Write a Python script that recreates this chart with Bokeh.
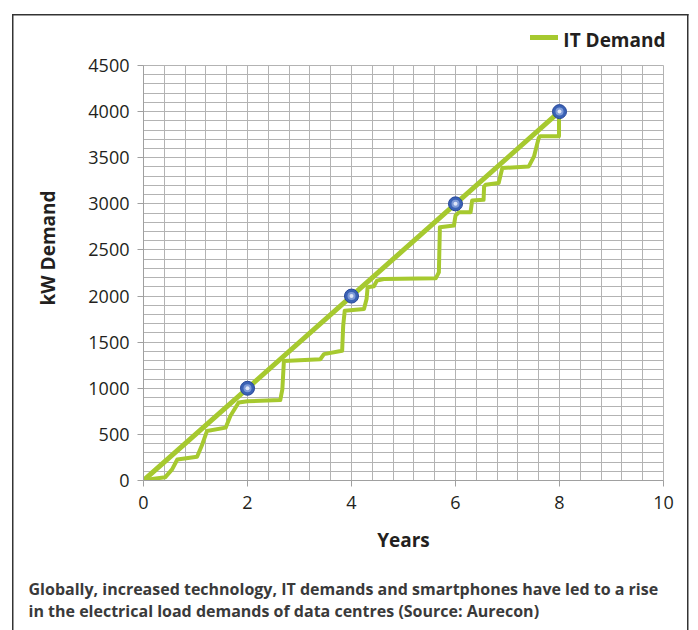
from bokeh.plotting import figure
from bokeh.models import (Range1d, FixedTicker, Title)
from bokeh.embed import file_html
from bokeh.resources import INLINE

# ---- data ----
target_years = [0, 2, 4, 6, 8]
target_demand = [0, 1000, 2000, 3000, 4000]
marker_years = [2, 4, 6, 8]
marker_demand = [1000, 2000, 3000, 4000]
step_years = [0, 0.2, 0.42, 0.55, 0.65, 1.03, 1.13, 1.22, 1.58, 1.67, 1.83, 2.0,
              2.63, 2.67, 2.70, 3.40, 3.47, 3.82, 3.84, 3.87, 4.24, 4.29, 4.31,
              4.43, 4.49, 4.62, 5.62, 5.68, 5.70, 5.97, 6.0, 6.07, 6.29, 6.32,
              6.54, 6.55, 6.58, 6.83, 6.90, 7.41, 7.51, 7.60, 7.63, 7.99, 7.99, 8.0]
step_demand = [0, 20, 36, 120, 228, 258, 391, 536, 573, 699, 845, 860,
               872, 989, 1297, 1315, 1370, 1406, 1677, 1840, 1859, 1967, 2095,
               2106, 2167, 2185, 2192, 2257, 2747, 2764, 2873, 2910, 2910, 3036,
               3043, 3188, 3207, 3225, 3388, 3406, 3514, 3714, 3732, 3732, 3967, 4000]
x_ticks = [0, 2, 4, 6, 8, 10]
y_ticks = [0, 500, 1000, 1500, 2000, 2500, 3000, 3500, 4000, 4500]
x_grid = [0, 0.4, 0.8, 1.2, 1.6, 2.0, 2.4, 2.8, 3.2, 3.6, 4.0, 4.4, 4.8, 5.2, 5.6,
          6.0, 6.4, 6.8, 7.2, 7.6, 8.0, 8.4, 8.8, 9.2, 9.6, 10.0]
y_grid = list(range(0, 4501, 100))
legend_label = "IT Demand"
x_title = "Years"
y_title = "kW Demand"
caption = ["Globally, increased technology, IT demands and smartphones have led to a rise",
           "in the electrical load demands of data centres (Source: Aurecon)"]

GREEN = "#a6c92f"
FONT = "Open Sans"
TXT = "#231f20"

p = figure(width=698, height=630, x_range=Range1d(0, 10), y_range=Range1d(0, 4500),
           output_backend="svg", toolbar_location=None,
           min_border_left=143, min_border_right=35, min_border_top=65,
           min_border_bottom=149)
p.background_fill_color = "white"
p.border_fill_color = None
p.outline_line_color = "#b3b3b3"
# outer frame of the figure panel and the legend key swatch (page decoration)
p.styles = {
    "background-color": "white",
    "background-image": ("linear-gradient(#333,#333), linear-gradient(#333,#333), "
                         "linear-gradient(#333,#333), "
                         f"linear-gradient({GREEN},{GREEN})"),
    "background-position": "12px 14px, 12px 14px, 687px 14px, 530px 35px",
    "background-size": "1.5px 700px, 676.5px 1.5px, 1.5px 700px, 28px 5px",
    "background-repeat": "no-repeat",
}

p.xaxis.ticker = FixedTicker(ticks=x_ticks)
p.yaxis.ticker = FixedTicker(ticks=y_ticks)
p.xgrid.ticker = FixedTicker(ticks=x_grid)
p.ygrid.ticker = FixedTicker(ticks=y_grid)
for g in (p.xgrid, p.ygrid):
    g.grid_line_color = "#b3b3b3"
    g.grid_line_width = 1
for ax in (p.xaxis, p.yaxis):
    ax.axis_line_color = "#a0a0a0"
    ax.major_tick_line_color = "#a0a0a0"
    ax.major_tick_out = 6
    ax.major_tick_in = 0
    ax.minor_tick_line_color = None
    ax.major_label_text_font = FONT
    ax.major_label_text_font_size = "18px"
    ax.major_label_text_color = TXT
p.yaxis.major_label_standoff = 8
p.xaxis.major_label_standoff = 9

target = p.line(target_years, target_demand, line_color=GREEN, line_width=5)
p.line(step_years, step_demand, line_color=GREEN, line_width=4, line_join="round")
p.scatter(marker_years, marker_demand, size=14, fill_color="#3a62b5",
          line_color="#26469a", line_width=1)
p.scatter(marker_years, marker_demand, size=8, fill_color="#7f9bd8", line_color=None)
p.scatter(marker_years, marker_demand, size=4, fill_color="#dfe7f8", line_color=None)

p.add_layout(Title(text=legend_label, align="right", offset=-2, standoff=26,
                   text_font=FONT, text_font_size="19px", text_font_style="bold",
                   text_color=TXT), "above")
p.add_layout(Title(text=y_title, align="left", offset=175, standoff=49,
                   text_font=FONT, text_font_size="19px", text_font_style="bold",
                   text_color=TXT), "left")
p.add_layout(Title(text=x_title, align="center", standoff=27,
                   text_font=FONT, text_font_size="19px", text_font_style="bold",
                   text_color=TXT), "below")
p.add_layout(Title(text="\n".join(caption), align="left", offset=-115, standoff=18,
                   text_font=FONT, text_font_size="16px", text_font_style="bold",
                   text_line_height=1.0, text_color="#3a3a3a"), "below")

open("out.html", "w").write(file_html(p, INLINE))
